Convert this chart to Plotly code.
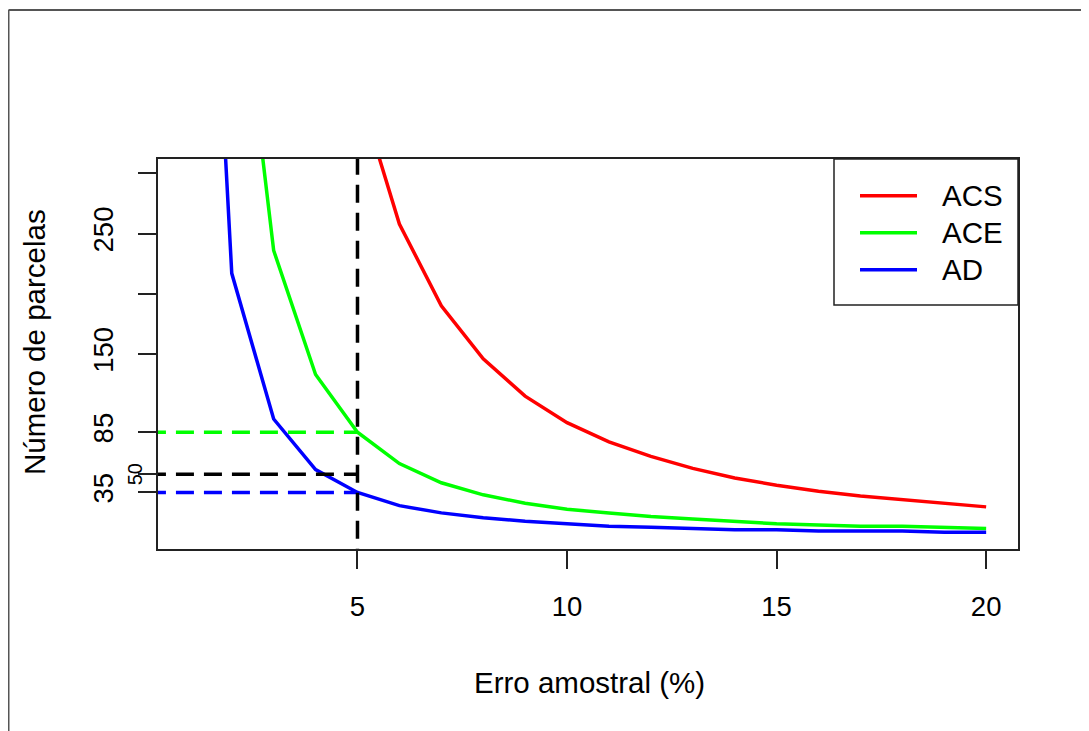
import plotly.graph_objects as go

# ---- data ----
erro = [1, 2, 3, 4, 5, 6, 7, 8, 9, 10, 11, 12, 13, 14, 15, 16, 17, 18, 19, 20]
acs = [9300, 2325, 1033, 581, 372, 258, 190, 146, 115, 93, 77, 65, 55, 47, 41, 36, 32, 29, 26, 23]
ace = [2120, 530, 236, 133, 85, 59, 43, 33, 26, 21, 18, 15, 13, 11, 9, 8, 7, 7, 6, 5]
ad = [866, 217, 96, 54, 35, 24, 18, 14, 11, 9, 7, 6, 5, 4, 4, 3, 3, 3, 2, 2]
series_names = ["ACS", "ACE", "AD"]
series_colors = ["#FF0000", "#00FF00", "#0000FF"]

ref_erro = 5
ref_levels = [85, 50, 35]
ref_colors = ["#00FF00", "#000000", "#0000FF"]

y_tickvals = [35, 50, 85, 150, 200, 250, 300]
y_ticktext = ["35", "", "85", "150", "", "250", ""]
x_tickvals = [5, 10, 15, 20]

# page offset (browser body margin)
OFF = 8
W, H = 1089 - OFF, 731 - OFF
# plot area in screenshot pixels
L, R, T, B = 158, 1018, 159, 549
FONT = "Liberation Sans, Arial, sans-serif"
LAB = 29.5
TICK = 27.5


def px_x(px):
    return (px - L) / (R - L)


def px_y(py):
    return (B - py) / (B - T)


fig = go.Figure()

for name, vals, col in zip(series_names, [acs, ace, ad], series_colors):
    fig.add_trace(go.Scatter(x=erro, y=vals, mode="lines", name=name,
                             line=dict(color=col, width=3.5), showlegend=False))

# reference dashed lines
for lvl, col in zip(ref_levels, ref_colors):
    fig.add_trace(go.Scatter(x=[0, ref_erro], y=[lvl, lvl], mode="lines",
                             line=dict(color=col, width=3.5, dash="18px,10px"),
                             showlegend=False, hoverinfo="skip"))
fig.add_trace(go.Scatter(x=[ref_erro, ref_erro], y=[-50, 400], mode="lines",
                         line=dict(color="#000000", width=3.5, dash="18px,10px"),
                         showlegend=False, hoverinfo="skip"))

shapes = []
annotations = []

# manual legend (R style)
shapes.append(dict(type="rect", xref="paper", yref="paper",
                   x0=px_x(834), x1=px_x(1018), y0=px_y(305), y1=px_y(159),
                   line=dict(color="#222222", width=1.5), fillcolor="white", layer="above"))
for i, (name, col) in enumerate(zip(series_names, series_colors)):
    ly = 195.7 + 37 * i
    shapes.append(dict(type="line", xref="paper", yref="paper",
                       x0=px_x(860), x1=px_x(917), y0=px_y(ly), y1=px_y(ly),
                       line=dict(color=col, width=3.5), layer="above"))
    annotations.append(dict(text=name, xref="paper", yref="paper",
                            x=px_x(940), y=px_y(ly), xanchor="left", yanchor="middle",
                            showarrow=False, font=dict(family=FONT, size=LAB, color="black")))

# outer frame (top & left)
shapes.append(dict(type="line", xref="paper", yref="paper",
                   x0=px_x(8.5), x1=px_x(1100), y0=px_y(10), y1=px_y(10),
                   line=dict(color="#555555", width=2)))
shapes.append(dict(type="line", xref="paper", yref="paper",
                   x0=px_x(8.5), x1=px_x(8.5), y0=px_y(10), y1=px_y(740),
                   line=dict(color="#555555", width=2)))

# small "50" label
annotations.append(dict(text="50", xref="paper", yref="y", x=px_x(135), y=50,
                        xanchor="center", yanchor="middle", textangle=-90,
                        showarrow=False, font=dict(family=FONT, size=20, color="black")))

# axis titles
annotations.append(dict(text="Erro amostral (%)", xref="paper", yref="paper",
                        x=px_x(589.5), y=px_y(682), xanchor="center", yanchor="middle",
                        showarrow=False, font=dict(family=FONT, size=LAB, color="black")))
annotations.append(dict(text="Número de parcelas", xref="paper", yref="paper",
                        x=px_x(34), y=px_y(342), xanchor="center", yanchor="middle",
                        textangle=-90, showarrow=False,
                        font=dict(family=FONT, size=LAB, color="black")))

fig.update_layout(
    width=W, height=H, autosize=False,
    margin=dict(l=L - OFF, r=W - (R - OFF), t=T - OFF, b=H - (B - OFF), pad=0),
    paper_bgcolor="white", plot_bgcolor="white",
    font=dict(family=FONT, size=TICK, color="black"),
    shapes=shapes, annotations=annotations,
    showlegend=False,
)
fig.update_xaxes(range=[0.24, 20.76], tickvals=x_tickvals, ticks="outside", ticklen=18,
                 tickwidth=1.5, tickcolor="#222222", showgrid=False, zeroline=False,
                 showline=True, mirror=True, linecolor="#222222", linewidth=1.5,
                 tickfont=dict(family=FONT, size=TICK), ticklabelstandoff=14)
fig.update_yaxes(range=[-12, 312], tickvals=y_tickvals, ticktext=y_ticktext,
                 ticks="outside", ticklen=18, tickwidth=1.5, tickcolor="#222222",
                 showgrid=False, zeroline=False, showline=True, mirror=True,
                 linecolor="#222222", linewidth=1.5, tickangle=-90,
                 tickfont=dict(family=FONT, size=TICK), ticklabelstandoff=14)

fig.write_html("out.html")
